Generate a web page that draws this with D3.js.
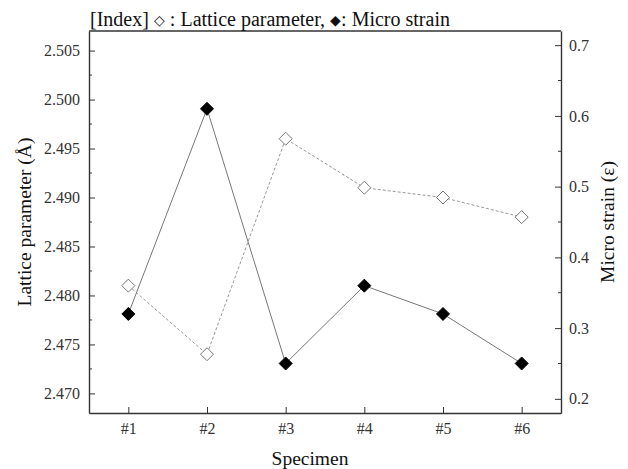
<!DOCTYPE html>
<html>
<head>
<meta charset="utf-8">
<script src="https://cdn.jsdelivr.net/npm/d3@7"></script>
<style>
  body { margin: 0; background: #fff; }
  #chart text { font-family: "Liberation Serif", "Times New Roman", serif; }
</style>
</head>
<body>
<svg id="chart" width="628" height="469"></svg>
<script>
const specimens = ["#1", "#2", "#3", "#4", "#5", "#6"];
const lattice = [2.481, 2.474, 2.496, 2.491, 2.490, 2.488];
const strain = [0.32, 0.61, 0.25, 0.36, 0.32, 0.25];
const latticeTicks = [2.470, 2.475, 2.480, 2.485, 2.490, 2.495, 2.500, 2.505];
const strainTicks = [0.2, 0.3, 0.4, 0.5, 0.6, 0.7];

const svg = d3.select("#chart");
const margin = {top: 31, right: 67, bottom: 56, left: 89};
const width = 628, height = 469;

const x = d3.scaleLinear().domain([0.5, 6.5]).range([margin.left, width - margin.right]);
const yL = d3.scaleLinear().domain([2.468, 2.507]).range([height - margin.bottom, margin.top]);
const yR = d3.scaleLinear().domain([0.18, 0.72]).range([height - margin.bottom, margin.top]);

const axisColor = "#333";
const textColor = "#333";

// minor ticks (inside the frame)
const minorL = d3.range(2.4725, 2.507, 0.005);
const minorR = d3.range(0.25, 0.72, 0.1);

// left axis
const gL = svg.append("g").attr("transform", `translate(${margin.left},0)`)
  .call(d3.axisLeft(yL).tickValues(latticeTicks).tickFormat(d3.format(".3f")).tickSizeInner(-6).tickSizeOuter(0).tickPadding(9));
gL.append("g").selectAll("line").data(minorL).join("line")
  .attr("x1", 0).attr("x2", 3).attr("y1", d => yL(d)).attr("y2", d => yL(d))
  .attr("stroke", axisColor);

// right axis
const gR = svg.append("g").attr("transform", `translate(${width - margin.right},0)`)
  .call(d3.axisRight(yR).tickValues(strainTicks).tickFormat(d3.format(".1f")).tickSizeInner(-6).tickSizeOuter(0).tickPadding(8));
gR.append("g").selectAll("line").data(minorR).join("line")
  .attr("x1", 0).attr("x2", -3).attr("y1", d => yR(d)).attr("y2", d => yR(d))
  .attr("stroke", axisColor);

// bottom axis
const gB = svg.append("g").attr("transform", `translate(0,${height - margin.bottom})`)
  .call(d3.axisBottom(x).tickValues(d3.range(1, 7)).tickFormat(d => specimens[d - 1]).tickSizeInner(-6).tickSizeOuter(0).tickPadding(10));

// top border
svg.append("line")
  .attr("x1", margin.left).attr("x2", width - margin.right)
  .attr("y1", margin.top).attr("y2", margin.top)
  .attr("stroke", axisColor).attr("stroke-width", 1.4);

[gL, gR, gB].forEach(g => {
  g.attr("font-family", null).attr("font-size", 16);
  g.select(".domain").attr("stroke", axisColor).attr("stroke-width", 1.4);
  g.selectAll(".tick line").attr("stroke", axisColor);
  g.selectAll(".tick text").attr("fill", textColor);
});

// lines
const idx = d3.range(specimens.length);
svg.append("path")
  .attr("d", d3.line().x(i => x(i + 1)).y(i => yL(lattice[i]))(idx))
  .attr("fill", "none").attr("stroke", "#999").attr("stroke-width", 1).attr("stroke-dasharray", "3,2");
svg.append("path")
  .attr("d", d3.line().x(i => x(i + 1)).y(i => yR(strain[i]))(idx))
  .attr("fill", "none").attr("stroke", "#777").attr("stroke-width", 1);

const diamond = (cx, cy, r) => `M${cx},${cy - r}L${cx + r},${cy}L${cx},${cy + r}L${cx - r},${cy}Z`;

svg.append("g").selectAll("path").data(idx).join("path")
  .attr("d", i => diamond(x(i + 1), yL(lattice[i]), 6.5))
  .attr("fill", "#fff").attr("stroke", "#777").attr("stroke-width", 1);

svg.append("g").selectAll("path").data(idx).join("path")
  .attr("d", i => diamond(x(i + 1), yR(strain[i]), 6.5))
  .attr("fill", "#000").attr("stroke", "#000");

// titles
const title = svg.append("text")
  .attr("x", margin.left + 1).attr("y", 26)
  .attr("fill", "#111").attr("font-size", 20);
title.append("tspan").text("[Index] ");
title.append("tspan").attr("font-size", 14).attr("dy", -1).text("\u25C7");
title.append("tspan").attr("dy", 1).text(" : Lattice parameter, ");
title.append("tspan").attr("font-size", 14).attr("dy", -1).text("\u25C6");
title.append("tspan").attr("dy", 1).text(": Micro strain");

svg.append("text")
  .attr("transform", `translate(31,${(margin.top + height - margin.bottom) / 2}) rotate(-90)`)
  .attr("text-anchor", "middle").attr("fill", "#111").attr("font-size", 19.5)
  .text("Lattice parameter (\u00C5)");

svg.append("text")
  .attr("transform", `translate(614,${(margin.top + height - margin.bottom) / 2}) rotate(-90)`)
  .attr("text-anchor", "middle").attr("fill", "#111").attr("font-size", 19.5)
  .text("Micro strain (\u03B5)");

svg.append("text")
  .attr("x", 310).attr("y", 465)
  .attr("text-anchor", "middle").attr("fill", "#111").attr("font-size", 19.5)
  .text("Specimen");
</script>
</body>
</html>
